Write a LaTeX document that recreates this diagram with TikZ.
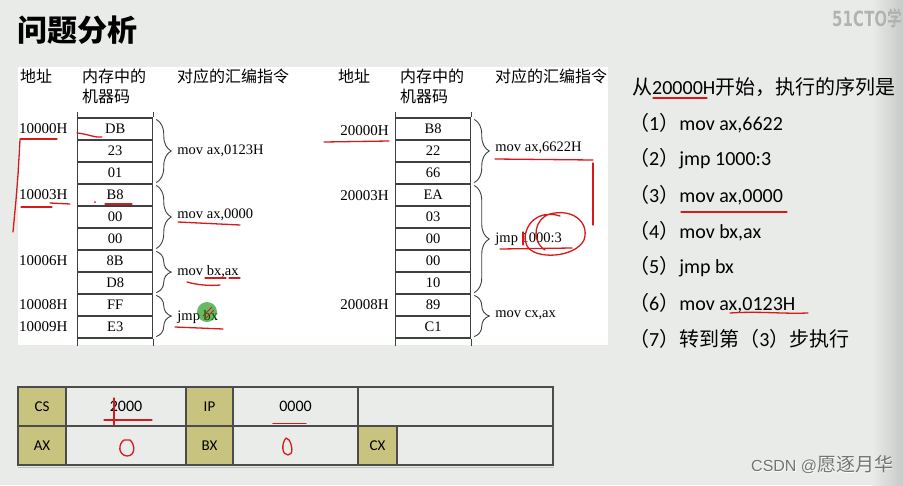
\documentclass[tikz,border=0pt]{standalone}
\usepackage{fontspec}
\setmainfont{Liberation Serif}
\newfontfamily\cjk{Noto Sans CJK SC}
\newfontfamily\carl{Carlito}
\newfontfamily\lsans{Liberation Sans}
\newfontfamily\dvs{DejaVu Sans}
\usetikzlibrary{decorations.pathreplacing,calc}
\definecolor{bgc}{RGB}{233,235,233}
\definecolor{khaki}{RGB}{201,195,128}
\definecolor{cellc}{RGB}{234,236,233}
\definecolor{redpen}{RGB}{215,25,25}
\newcommand{\zh}[1]{{\cjk\fontsize{20}{20}\selectfont #1}}
\begin{document}
\begin{tikzpicture}[x=1pt,y=-1pt,
  cell/.style={draw=black!75, line width=1.1pt, minimum width=75pt, minimum height=22pt, inner sep=0pt, font=\fontsize{14.5}{14.5}\selectfont},
  addr/.style={inner sep=0pt, font=\fontsize{15}{15}\selectfont},
  ins/.style={anchor=west, inner sep=0pt, font=\fontsize{14.5}{14.5}\selectfont},
  brc/.style={decorate, decoration={brace, amplitude=15pt}, draw=black!75, line width=0.9pt},
  hdr/.style={anchor=west, inner sep=0pt, font=\cjk\fontsize{16}{16}\selectfont},
  item/.style={anchor=west, inner sep=0pt, font=\carl\fontsize{20}{20}\selectfont},
  tlab/.style={draw=black!70, line width=1.1pt, fill=khaki, inner sep=0pt, font=\carl\fontsize{15}{15}\selectfont, minimum height=39pt},
  tval/.style={draw=black!70, line width=1.1pt, fill=cellc, inner sep=0pt, font=\carl\fontsize{16}{16}\selectfont, minimum height=39pt},
  ann/.style={draw=redpen, line width=1.3pt, line cap=round, line join=round},
  wm/.style={inner sep=0pt, text=black!45}
]
\useasboundingbox (0,0) rectangle (903,485);
\fill[bgc] (0,0) rectangle (903,485);
\shade[left color=bgc, right color={rgb,255:red,200;green,202;blue,200}] (872,0) rectangle (903,485);
\fill[white] (18,67) rectangle (608,345);

% title
\node[anchor=west, inner sep=0pt, font=\cjk\bfseries\fontsize{30}{30}\selectfont] (title) at (17,30) {问题分析};

% headers
\node[hdr] (h1) at (20,76) {地址};
\node[hdr] (h2) at (82,76) {内存中的};
\node[hdr] (h3) at (82,96) {机器码};
\node[hdr] (h4) at (177,76) {对应的汇编指令};
\node[hdr] (h5) at (338,76) {地址};
\node[hdr] (h6) at (400,76) {内存中的};
\node[hdr] (h7) at (400,96) {机器码};
\node[hdr] (h8) at (495,76) {对应的汇编指令};

% memory cells
\foreach \t [count=\i] in {DB,23,01,B8,00,00,8B,D8,FF,E3}
  \node[cell] (L\i) at (115.2,107+22*\i) {\t};
\foreach \t [count=\i] in {B8,22,66,EA,03,00,00,10,89,C1}
  \node[cell] (R\i) at (433.2,107+22*\i) {\t};
\foreach \c in {L,R}{
  \draw[draw=black!75, line width=1.1pt] (\c1.north west) -- ++(0,-5);
  \draw[draw=black!75, line width=1.1pt] (\c1.north east) -- ++(0,-5);
  \draw[draw=black!75, line width=1.1pt] (\c10.south west) -- ++(0,7);
  \draw[draw=black!75, line width=1.1pt] (\c10.south east) -- ++(0,7);
}

% addresses
\node[addr, anchor=west] (a1) at (19,129) {10000H};
\node[addr, anchor=west] (a2) at (19,195) {10003H};
\node[addr, anchor=west] (a3) at (19,261) {10006H};
\node[addr, anchor=west] (a4) at (19,305) {10008H};
\node[addr, anchor=west] (a5) at (19,327) {10009H};
\node[addr, anchor=east] (b1) at (389,131) {20000H};
\node[addr, anchor=east] (b2) at (389,196) {20003H};
\node[addr, anchor=east] (b3) at (389,305) {20008H};

% braces
\draw[brc] ([shift={(3,2)}]L1.north east) -- ([shift={(3,-2)}]L3.south east);
\draw[brc] ([shift={(3,2)}]L4.north east) -- ([shift={(3,-2)}]L6.south east);
\draw[brc] ([shift={(3,2)}]L7.north east) -- ([shift={(3,-2)}]L8.south east);
\draw[brc] ([shift={(3,2)}]L9.north east) -- ([shift={(3,-2)}]L10.south east);
\draw[brc] ([shift={(3,2)}]R1.north east) -- ([shift={(3,-2)}]R3.south east);
\draw[brc] ([shift={(3,2)}]R4.north east) -- ([shift={(3,-2)}]R8.south east);
\draw[brc] ([shift={(3,2)}]R9.north east) -- ([shift={(3,-2)}]R10.south east);

% instructions
\node[ins] (i1) at ($(L2.east)+(24,0)$) {mov ax,0123H};
\node[ins] (i2) at ($(L5.east)+(24,-2)$) {mov ax,0000};
\node[ins] (i3) at ($(L7.south east)+(24,-1)$) {mov bx,ax};
\node[ins] (i4) at ($(L9.south east)+(24,0)$) {jmp bx};
\node[ins] (j1) at ($(R2.east)+(24,-3)$) {mov ax,6622H};
\node[ins] (j2) at ($(R6.east)+(24,0)$) {jmp 1000:3};
\node[ins] (j3) at ($(R9.south east)+(24,-1)$) {mov cx,ax};

% right list
\node[item] (s0) at (632,87) {\zh{从}20000H\zh{开始，执行的序列是}};
\node[item] (s1) at (629,123) {\zh{（}1\zh{）}mov ax,6622};
\node[item] (s2) at (629,159) {\zh{（}2\zh{）}jmp 1000:3};
\node[item] (s3) at (629,195) {\zh{（}3\zh{）}mov ax,0000};
\node[item] (s4) at (629,231) {\zh{（}4\zh{）}mov bx,ax};
\node[item] (s5) at (629,267) {\zh{（}5\zh{）}jmp bx};
\node[item] (s6) at (629,303) {\zh{（}6\zh{）}mov ax,0123H};
\node[item] (s7) at (629,339) {\zh{（}7\zh{）转到第（}3\zh{）步执行}};

% register table
\node[tlab, minimum width=48pt] (cs) at (42,406.5) {CS};
\node[tval, minimum width=120pt] (csv) at (126,406.5) {2000};
\node[tlab, minimum width=47pt] (ip) at (209.5,406.5) {IP};
\node[tval, minimum width=125pt] (ipv) at (295.5,406.5) {0000};
\node[tval, minimum width=195pt] (e1) at (455.5,406.5) {};
\node[tlab, minimum width=48pt] (ax) at (42,445.5) {AX};
\node[tval, minimum width=120pt] (axv) at (126,445.5) {};
\node[tlab, minimum width=47pt] (bx) at (209.5,445.5) {BX};
\node[tval, minimum width=125pt] (bxv) at (295.5,445.5) {};
\node[tlab, minimum width=39pt] (cx) at (377.5,445.5) {CX};
\node[tval, minimum width=156pt] (cxv) at (475,445.5) {};
\draw[black!25, line width=1pt] (ax.south west) ++(1,2) -- ([shift={(0,2)}]cxv.south east);

% watermarks
\node[wm, anchor=west, font=\dvs\bfseries\fontsize{21}{21}\selectfont, xscale=0.72, text=white] (w1s) at (832.5,18.5) {51CTO{\cjk 学}};
\node[wm, anchor=west, font=\dvs\bfseries\fontsize{21}{21}\selectfont, xscale=0.72, text=black!30] (w1) at (832,18) {51CTO{\cjk 学}};
\node[wm, anchor=west, font=\lsans\fontsize{16}{16}\selectfont, text=white] (w2s) at (751.7,465.7) {CSDN @{\cjk\fontsize{19}{19}\selectfont 愿逐月华}};
\node[wm, anchor=west, font=\lsans\fontsize{16}{16}\selectfont, text=black!55] (w2) at (751,465) {CSDN @{\cjk\fontsize{19}{19}\selectfont 愿逐月华}};

% red pen annotations
\draw[ann] (20,139) -- (57,139);
\draw[ann] (20,140) -- (18,175) -- (16,200) -- (13,232);
\draw[ann] (77,133) .. controls (88,134) and (95,138) .. (102,137);
\draw[ann] (21,207) -- (52,207);
\draw[ann] (50,203) -- (70,204);
\draw[ann] (105,204) -- (132,204);
\fill[redpen] (95,202) circle [radius=1];
\draw[ann] (178,222) -- (240,225);
\draw[ann] (205,278) -- (226,278);
\draw[ann] (229,278) -- (240,278);
\draw[ann] (187,282) .. controls (197,285) and (210,286) .. (220,285);
\draw[ann] (175,327) -- (223,329);
\fill[green!55!black, opacity=0.6] (207,312) circle [radius=10];
\draw[redpen, line width=0.8pt] (203,316) -- (212,307);
\draw[redpen, line width=0.8pt] (206,318) -- (214,310);
\draw[ann] (324,142) -- (389,141);
\draw[ann] (495,159) -- (593,160);
\draw[ann] (593,163) -- (593,225);
\draw[ann] (500,249) -- (572,248);
\draw[ann] (523,232) -- (523,245);
\draw[ann] (560,216) .. controls (535,208) and (520,230) .. (527,246)
  .. controls (535,260) and (575,258) .. (584,240)
  .. controls (590,222) and (572,208) .. (550,214)
  .. controls (535,218) and (530,240) .. (545,250);
\draw[ann] (653,98) -- (707,98);
\draw[ann] (681,212) -- (787,212);
\draw[ann] (730,313) .. controls (760,311) and (780,314) .. (808,313);
\draw[ann] (114,398) -- (114,425);
\draw[ann] (104,420) -- (152,420);
\draw[ann] (273,423.5) -- (306,423.5);
\draw[ann] (124,440) .. controls (118,444) and (118,455) .. (127,456)
  .. controls (136,456) and (135,444) .. (130,440) -- (124,440);
\draw[ann] (286,438) .. controls (281,444) and (282,455) .. (288,455)
  .. controls (294,455) and (292,444) .. (289,440) -- (286,438);
\end{tikzpicture}
\end{document}
